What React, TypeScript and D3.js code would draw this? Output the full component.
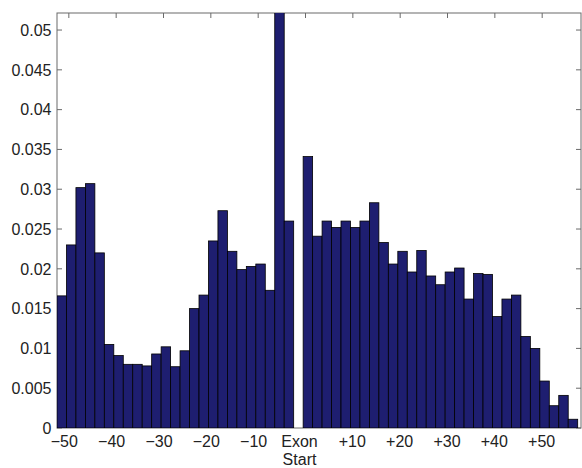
import React from "react";
import * as d3 from "d3";

// Bin centres (2-unit bins); the bin at -1.5 is empty (gap at exon start)
const binCenters = [
  -51.5, -49.5, -47.5, -45.5, -43.5, -41.5, -39.5, -37.5, -35.5, -33.5,
  -31.5, -29.5, -27.5, -25.5, -23.5, -21.5, -19.5, -17.5, -15.5, -13.5,
  -11.5, -9.5, -7.5, -5.5, -3.5, -1.5, 0.5, 2.5, 4.5, 6.5,
  8.5, 10.5, 12.5, 14.5, 16.5, 18.5, 20.5, 22.5, 24.5, 26.5,
  28.5, 30.5, 32.5, 34.5, 36.5, 38.5, 40.5, 42.5, 44.5, 46.5,
  48.5, 50.5, 52.5, 54.5, 56.5,
];

const values: (number | null)[] = [
  0.0166, 0.0230, 0.0302, 0.0307, 0.0220, 0.0105, 0.0091, 0.0080, 0.0080, 0.0078,
  0.0093, 0.0102, 0.0077, 0.0097, 0.0150, 0.0167, 0.0235, 0.0273, 0.0222, 0.0199,
  0.0203, 0.0206, 0.0173, 0.0600, 0.0260, null, 0.0341, 0.0241, 0.0260, 0.0252,
  0.0260, 0.0252, 0.0260, 0.0283, 0.0233, 0.0206, 0.0222, 0.0196, 0.0223, 0.0191,
  0.0180, 0.0196, 0.0201, 0.0162, 0.0194, 0.0193, 0.0140, 0.0162, 0.0167, 0.0115,
  0.0100, 0.0059, 0.0028, 0.0041, 0.0011,
];

const binWidth = 2;

const xTicks = [-50, -40, -30, -20, -10, 0, 10, 20, 30, 40, 50];
const xTickLabels = ["\u221250", "\u221240", "\u221230", "\u221220", "\u221210", "Exon\nStart", "+10", "+20", "+30", "+40", "+50"];

const yTicks = [0, 0.005, 0.01, 0.015, 0.02, 0.025, 0.03, 0.035, 0.04, 0.045, 0.05];
const yTickLabels = ["0", "0.005", "0.01", "0.015", "0.02", "0.025", "0.03", "0.035", "0.04", "0.045", "0.05"];

const W = 582;
const H = 468;
const left = 57;
const right = 581;
const top = 13;
const bottom = 428;

export default function App() {
  const x = d3.scaleLinear().domain([-52.5, 58.2]).range([left, right]);
  const y = d3.scaleLinear().domain([0, 0.05214]).range([bottom, top]);
  const axisColor = "#6a6a6a";
  const font = "'Liberation Sans', Arial, Helvetica, sans-serif";
  const tickLen = 5;

  return (
    <svg
      width={W}
      height={H}
      style={{ position: "absolute", left: 0, top: 0, background: "#fff" }}
      fontFamily={font}
    >
      <defs>
        <clipPath id="plotClip">
          <rect x={left} y={top} width={right - left} height={bottom - top} />
        </clipPath>
      </defs>
      <rect x={0} y={0} width={W} height={H} fill="#fff" />

      {/* box */}
      <rect x={left} y={top} width={right - left} height={bottom - top} fill="none" stroke={axisColor} strokeWidth={1} />

      {/* ticks */}
      {xTicks.map((t) => (
        <g key={"xt" + t}>
          <line x1={x(t)} x2={x(t)} y1={top} y2={top + tickLen} stroke={axisColor} />
          <line x1={x(t)} x2={x(t)} y1={bottom} y2={bottom - tickLen} stroke={axisColor} />
        </g>
      ))}
      {yTicks.map((t) => (
        <g key={"yt" + t}>
          <line x1={left} x2={left + tickLen} y1={y(t)} y2={y(t)} stroke={axisColor} />
          <line x1={right} x2={right - tickLen} y1={y(t)} y2={y(t)} stroke={axisColor} />
        </g>
      ))}

      {/* bars */}
      <g clipPath="url(#plotClip)">
        {binCenters.map((c, i) => {
          const v = values[i];
          if (v === null) return null;
          const x0 = x(c - binWidth / 2);
          const x1 = x(c + binWidth / 2);
          return (
            <rect
              key={"b" + i}
              x={x0}
              y={y(v)}
              width={x1 - x0}
              height={y(0) - y(v)}
              fill="#1e1e70"
              stroke="#000"
              strokeWidth={0.8}
            />
          );
        })}
      </g>

      {/* y tick labels */}
      {yTicks.map((t, i) => (
        <text
          key={"yl" + t}
          x={51.5}
          y={y(t)}
          dy="0.36em"
          textAnchor="end"
          fontSize={16}
          fill="#222"
        >
          {yTickLabels[i]}
        </text>
      ))}

      {/* x tick labels */}
      {xTicks.map((t, i) => {
        const lines = xTickLabels[i].split("\n");
        const dx = t < 0 ? -4.5 : t === 0 ? -6 : -0.5;
        return (
          <text key={"xl" + t} x={x(t) + dx} y={446.5} textAnchor="middle" fontSize={16} fill="#222">
            {lines.map((ln, j) => (
              <tspan key={j} x={x(t) + dx} dy={j === 0 ? 0 : 18.5}>
                {ln}
              </tspan>
            ))}
          </text>
        );
      })}
    </svg>
  );
}
